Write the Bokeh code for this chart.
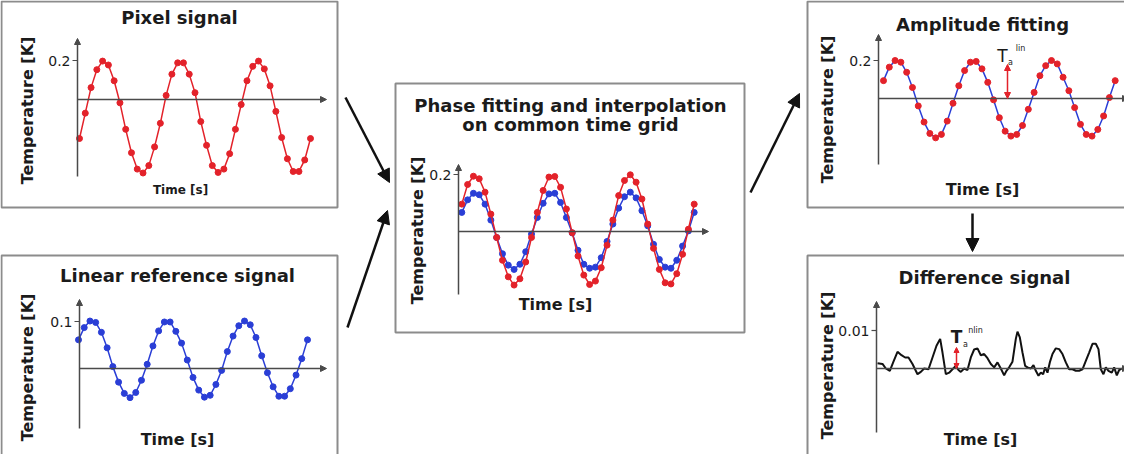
import numpy as np
from bokeh.plotting import figure
from bokeh.models import Range1d, Arrow, NormalHead
from bokeh.core.properties import value
from bokeh.embed import file_html
from bokeh.resources import INLINE

# ---------------- data ----------------
sample_index = list(range(41))

pixel_signal = [-0.200, -0.070, 0.061, 0.153, 0.197, 0.177, 0.096, -0.017, -0.153, -0.273,
                -0.357, -0.377, -0.339, -0.243, -0.122, 0.021, 0.130, 0.188, 0.188, 0.130,
                0.035, -0.113, -0.235, -0.339, -0.374, -0.357, -0.278, -0.153, -0.026, 0.096,
                0.170, 0.197, 0.157, 0.070, -0.061, -0.195, -0.304, -0.369, -0.369, -0.310,
                -0.200]

reference_signal = [0.061, 0.087, 0.101, 0.098, 0.077, 0.044, 0.004, -0.029, -0.053, -0.062,
                    -0.051, -0.025, 0.009, 0.048, 0.080, 0.099, 0.099, 0.079, 0.054, 0.018,
                    -0.019, -0.046, -0.061, -0.057, -0.034, -0.004, 0.036, 0.069, 0.091, 0.101,
                    0.093, 0.066, 0.027, -0.009, -0.039, -0.059, -0.059, -0.043, -0.014, 0.021,
                    0.061]

phase_pixel = [0.096, 0.165, 0.194, 0.185, 0.138, 0.061, -0.021, -0.101, -0.159, -0.188,
               -0.166, -0.107, -0.021, 0.067, 0.144, 0.191, 0.193, 0.155, 0.079, -0.004,
               -0.086, -0.153, -0.186, -0.174, -0.127, -0.048, 0.040, 0.126, 0.179, 0.199,
               0.173, 0.114, 0.026, -0.059, -0.133, -0.180, -0.184, -0.148, -0.080, 0.008,
               0.096]

phase_reference = [0.067, 0.111, 0.134, 0.129, 0.096, 0.040, -0.021, -0.078, -0.118, -0.133,
                   -0.115, -0.071, -0.009, 0.049, 0.099, 0.132, 0.134, 0.102, 0.049, -0.005,
                   -0.066, -0.115, -0.129, -0.125, -0.092, -0.035, 0.026, 0.082, 0.122, 0.138,
                   0.118, 0.073, 0.020, -0.045, -0.098, -0.125, -0.129, -0.101, -0.051, 0.002,
                   0.067]

amplitude_fit = [0.094, 0.165, 0.200, 0.191, 0.138, 0.058, -0.039, -0.124, -0.184, -0.207,
                 -0.189, -0.119, -0.025, 0.067, 0.147, 0.191, 0.195, 0.156, 0.085, -0.007,
                 -0.101, -0.172, -0.198, -0.189, -0.142, -0.057, 0.032, 0.120, 0.173, 0.200,
                 0.182, 0.112, 0.041, -0.048, -0.136, -0.189, -0.198, -0.163, -0.092, 0.005,
                 0.094]

difference_time = [0, 1.5, 2.5, 3.7, 4.7, 6.0, 7.2, 8.3, 9.3, 10.5,
                   12.0, 13.0, 14.0, 15.3, 16.5, 17.7, 18.8, 19.5, 20.5, 21.5,
                   22.5, 23.5, 24.3, 25.0, 26.0, 27.0, 28.0, 29.0, 30.0, 31.0,
                   32.0, 33.0, 34.0, 35.0, 36.0, 37.0, 38.0, 38.7, 39.5, 40.5,
                   41.5, 42.0, 42.7, 43.5, 44.3, 45.0, 46.0, 46.8, 47.5, 48.3,
                   49.0, 49.7, 50.3, 51.0, 51.7, 52.5, 53.5, 54.5, 55.5, 56.5,
                   57.5, 58.5, 59.5, 60.5, 61.5, 62.5, 63.5, 64.5, 65.5, 66.3,
                   67.0, 67.8, 68.5, 69.3, 70.3, 71.0, 71.8, 72.5, 73.3]

difference_signal = [0.0014, 0.0012, 0.0000, -0.0006, 0.0016, 0.0044, 0.0035, 0.0029, 0.0029, 0.0012,
                     -0.0015, -0.0009, 0.0000, -0.0002, 0.0029, 0.0060, 0.0078, 0.0042, -0.0015, -0.0011,
                     -0.0002, 0.0007, -0.0004, -0.0009, 0.0000, -0.0004, 0.0029, 0.0050, 0.0053, 0.0035,
                     0.0038, 0.0027, 0.0012, 0.0003, 0.0016, 0.0000, -0.0018, -0.0006, 0.0003, 0.0018,
                     0.0078, 0.0097, 0.0082, 0.0042, 0.0007, 0.0003, 0.0000, 0.0009, -0.0006, -0.0019,
                     -0.0011, -0.0015, 0.0003, -0.0011, 0.0016, 0.0038, 0.0053, 0.0051, 0.0038, 0.0016,
                     -0.0002, -0.0002, -0.0006, -0.0006, -0.0002, 0.0020, 0.0042, 0.0065, 0.0065, 0.0051,
                     -0.0002, -0.0015, 0.0003, -0.0006, -0.0011, 0.0003, -0.0018, -0.0004, 0.0000]

panel_names = ["pixel", "reference", "phase", "amplitude", "difference"]
panel_titles = {
    "pixel": ["Pixel signal"],
    "reference": ["Linear reference signal"],
    "phase": ["Phase fitting and interpolation", "on common time grid"],
    "amplitude": ["Amplitude fitting"],
    "difference": ["Difference signal"],
}
tick_values = {"pixel": 0.2, "reference": 0.1, "phase": 0.2, "amplitude": 0.2, "difference": 0.01}
tick_labels = {"pixel": "0.2", "reference": "0.1", "phase": "0.2", "amplitude": "0.2", "difference": "0.01"}
y_label = "Temperature [K]"
x_label = "Time [s]"

# ---------------- styling / layout (page pixels) ----------------
RED = "#e3222a"
BLUE = "#2a3ed6"
INK = "#1b1b1b"
AXC = "#4a4a4a"
BOXC = "#8c8c8c"
FONT = value("DejaVu Sans")

W, H = 1124, 454
PX0, PX1 = 8, 8 + W
PY_BOTTOM, PY_TOP = 8 + H, 8

layout = {
    "pixel": dict(box=(9, 345, 9, 215), origin=(85, 107), ytop=46, ybot=184, xend=334,
                  tick_py=68, xmap=((0, 87), (40, 318)),
                  title_xy=[(187, 25)], ylab=(35, 118), xlab=(188, 197, "12px")),
    "reference": dict(box=(9, 345, 263, 480), origin=(87, 376), ytop=307, ybot=436, xend=334,
                      tick_py=329, xmap=((0, 86), (40, 315)),
                      title_xy=[(185, 283)], ylab=(35, 375), xlab=(185, 447, "16px")),
    "phase": dict(box=(403, 752, 91, 340), origin=(466, 239), ytop=172, ybot=302, xend=716,
                  tick_py=182, xmap=((0, 469.3), (40, 701.7)),
                  title_xy=[(578, 113), (578, 132)], ylab=(425, 238), xlab=(563, 312, "16px")),
    "amplitude": dict(box=(815, 1150, 9, 215), origin=(886, 106), ytop=42, ybot=172, xend=1136,
                      tick_py=68, xmap=((0, 891), (40, 1122.7)),
                      title_xy=[(990, 32)], ylab=(835, 117), xlab=(990, 197, "16px")),
    "difference": dict(box=(815, 1150, 263, 480), origin=(884, 376), ytop=309, ybot=440, xend=1136,
                       tick_py=338, xmap=((0, 885), (10, 918.33)),
                       title_xy=[(992, 285)], ylab=(835, 373), xlab=(988, 447, "16px")),
}


def lin(p_a, d_a, p_b, d_b, pos):
    return d_a + (pos - p_a) * (d_b - d_a) / (p_b - p_a)


p = figure(width=W, height=H,
           x_range=Range1d(PX0, PX1), y_range=Range1d(PY_BOTTOM, PY_TOP),
           x_axis_type=None, y_axis_type=None,
           output_backend="svg", toolbar_location=None, min_border=0)
p.outline_line_color = None
p.background_fill_color = "white"
p.border_fill_color = "white"

extra_x, extra_y = {}, {}
for name in panel_names:
    L = layout[name]
    (d0, px0), (d1, px1) = L["xmap"]
    extra_x[name] = Range1d(lin(px0, d0, px1, d1, PX0), lin(px0, d0, px1, d1, PX1))
    oy = L["origin"][1]
    t = tick_values[name]
    extra_y[name] = Range1d(lin(oy, 0.0, L["tick_py"], t, PY_BOTTOM),
                            lin(oy, 0.0, L["tick_py"], t, PY_TOP))
p.extra_x_ranges = extra_x
p.extra_y_ranges = extra_y

# ---------------- panel frames, titles, axes ----------------
for name in panel_names:
    L = layout[name]
    l, r, t_, b = L["box"]
    p.quad(left=[l], right=[r], top=[t_], bottom=[b], fill_color=None,
           line_color=BOXC, line_width=2)
    tx = [xy[0] for xy in L["title_xy"]]
    ty = [xy[1] for xy in L["title_xy"]]
    p.text(x=tx, y=ty, text=panel_titles[name], text_font=FONT, text_font_style="bold",
           text_font_size="18px", text_color=INK, text_align="center", text_baseline="middle")
    p.text(x=[L["ylab"][0]], y=[L["ylab"][1]], text=[y_label], angle=np.pi / 2,
           text_font=FONT, text_font_style="bold", text_font_size="16px", text_color=INK,
           text_align="center", text_baseline="middle")
    p.text(x=[L["xlab"][0]], y=[L["xlab"][1]], text=[x_label], text_font=FONT,
           text_font_style="bold", text_font_size=L["xlab"][2], text_color=INK,
           text_align="center", text_baseline="middle")
    ox, oy = L["origin"]
    # y axis with arrow
    p.add_layout(Arrow(x_start=ox, y_start=L["ybot"], x_end=ox, y_end=L["ytop"],
                       line_color=AXC, line_width=1.5,
                       end=NormalHead(size=6, fill_color=AXC, line_color=AXC)))
    # x axis at zero (data) with arrow
    p.add_layout(Arrow(x_start=ox, y_start=0, x_end=L["xend"], y_end=0, y_range_name=name,
                       line_color=AXC, line_width=1.5,
                       end=NormalHead(size=6, fill_color=AXC, line_color=AXC)))
    # single tick
    tv = tick_values[name]
    p.segment(x0=[ox - 5], y0=[tv], x1=[ox], y1=[tv], y_range_name=name,
              line_color=AXC, line_width=1.2)
    p.text(x=[ox - 7], y=[tv], text=[tick_labels[name]], y_range_name=name,
           text_font=FONT, text_font_size="14px", text_color=INK,
           text_align="right", text_baseline="middle")

# ---------------- signals ----------------
def series(name, xs, ys, color, markers=True, lw=1.5, mcolor=None):
    p.line(xs, ys, x_range_name=name, y_range_name=name, line_color=color, line_width=lw)
    if markers:
        mc = mcolor or color
        p.scatter(xs, ys, x_range_name=name, y_range_name=name, size=6,
                  fill_color=mc, line_color=mc)

series("pixel", sample_index, pixel_signal, RED)
series("reference", sample_index, reference_signal, BLUE)
series("phase", sample_index, phase_reference, BLUE)
series("phase", sample_index, phase_pixel, RED)
series("amplitude", sample_index, amplitude_fit, BLUE, mcolor=RED)
series("difference", difference_time, difference_signal, "#111111", markers=False, lw=2)

# ---------------- amplitude annotations ----------------
p.add_layout(Arrow(x_start=1015, y_start=106, x_end=1015, y_end=72, line_color=RED, line_width=1.5,
                   start=NormalHead(size=6, fill_color=RED, line_color=RED),
                   end=NormalHead(size=6, fill_color=RED, line_color=RED)))
p.text(x=[1010], y=[63], text=["T"], text_font=FONT, text_font_size="17px", text_color=INK,
       text_align="center", text_baseline="middle")
p.text(x=[1018], y=[70], text=["a"], text_font=FONT, text_font_size="8px", text_color=INK,
       text_align="center", text_baseline="middle")
p.text(x=[1028], y=[56], text=["lin"], text_font=FONT, text_font_size="8px", text_color=INK,
       text_align="center", text_baseline="middle")

p.add_layout(Arrow(x_start=964, y_start=376, x_end=964, y_end=355, line_color=RED, line_width=1.5,
                   start=NormalHead(size=5, fill_color=RED, line_color=RED),
                   end=NormalHead(size=5, fill_color=RED, line_color=RED)))
p.text(x=[964], y=[344], text=["T"], text_font=FONT, text_font_style="bold", text_font_size="17px",
       text_color=INK, text_align="center", text_baseline="middle")
p.text(x=[973], y=[352], text=["a"], text_font=FONT, text_font_size="8px", text_color=INK,
       text_align="center", text_baseline="middle")
p.text(x=[983], y=[338], text=["nlin"], text_font=FONT, text_font_size="8px", text_color=INK,
       text_align="center", text_baseline="middle")

# ---------------- flow arrows ----------------
flow = [((353, 105), (397, 190)), ((355, 335), (395, 218)),
        ((758, 200), (807, 101)), ((980, 221), (980, 259))]
for (xs, ys), (xe, ye) in flow:
    p.add_layout(Arrow(x_start=xs, y_start=ys, x_end=xe, y_end=ye, line_color="#111111",
                       line_width=2.5,
                       end=NormalHead(size=13, fill_color="#111111", line_color="#111111")))

open("out.html", "w").write(file_html(p, INLINE))
